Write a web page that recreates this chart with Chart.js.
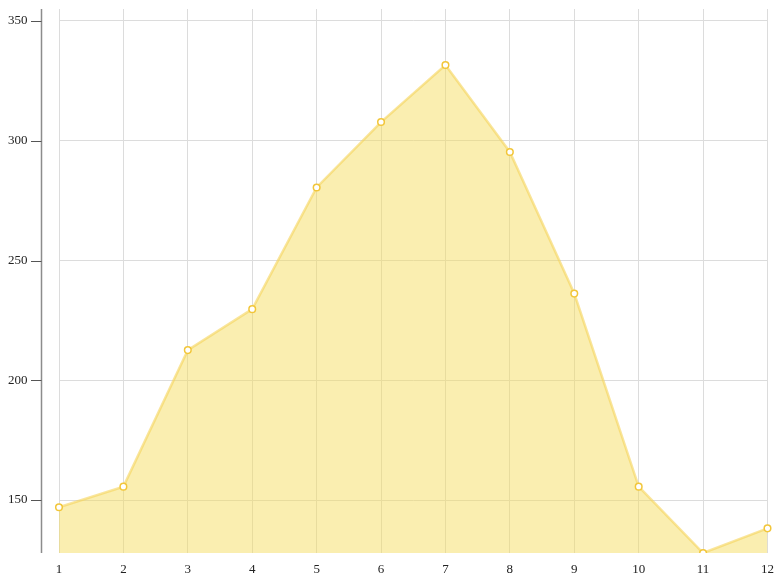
<!DOCTYPE html>
<html>
<head>
<meta charset="utf-8">
<script src="https://cdn.jsdelivr.net/npm/chart.js@4/dist/chart.umd.min.js"></script>
<style>
html,body{margin:0;padding:0;background:#fff;}
#wrap{width:782px;height:578px;}
</style>
</head>
<body>
<div id="wrap"><canvas id="c" width="782" height="578"></canvas></div>
<script>
const categories = ["1","2","3","4","5","6","7","8","9","10","11","12"];
const values = [147.0, 155.6, 212.6, 229.7, 280.5, 307.8, 331.6, 295.3, 236.2, 155.6, 127.9, 138.2];
const yTicks = [150, 200, 250, 300, 350];
const yMin = 127.9;
const yMax = 355;

const offsetAxis = {
  id: 'offsetAxis',
  afterDraw(chart) {
    const ctx = chart.ctx;
    const y = chart.scales.y;
    const area = chart.chartArea;
    const ax = area.left - 17.5;
    ctx.save();
    ctx.strokeStyle = '#8c8c8c';
    ctx.lineWidth = 1.5;
    ctx.beginPath();
    ctx.moveTo(ax, area.top);
    ctx.lineTo(ax, area.bottom);
    ctx.stroke();
    ctx.strokeStyle = '#555';
    ctx.lineWidth = 1;
    yTicks.forEach(v => {
      const py = Math.round(y.getPixelForValue(v)) + 0.5;
      ctx.beginPath();
      ctx.moveTo(ax - 10.5, py);
      ctx.lineTo(ax, py);
      ctx.stroke();
    });
    ctx.restore();
  }
};

new Chart(document.getElementById('c'), {
  type: 'line',
  data: {
    labels: categories,
    datasets: [{
      data: values,
      fill: 'start',
      backgroundColor: 'rgba(245,220,90,0.48)',
      borderColor: 'rgba(245,212,90,0.6)',
      borderWidth: 2.5,
      tension: 0,
      pointRadius: 3.3,
      pointBorderWidth: 1.5,
      pointBackgroundColor: '#ffffff',
      pointBorderColor: '#f2c63a',
      pointHoverRadius: 3.3
    }]
  },
  options: {
    responsive: false,
    animation: false,
    layout: { padding: { top: 9, right: 14, bottom: 1, left: 8 } },
    plugins: { legend: { display: false }, tooltip: { enabled: false } },
    scales: {
      x: {
        type: 'category',
        offset: false,
        afterFit(scale) { scale.height = 24; },
        grid: { color: '#dcdcdc', lineWidth: 1, drawTicks: false },
        border: { display: false },
        ticks: {
          padding: 8,
          color: '#222',
          font: { family: '"Liberation Serif", "DejaVu Serif", serif', size: 13, lineHeight: 1.3 },
          maxRotation: 0,
          autoSkip: false
        }
      },
      y: {
        min: yMin,
        max: yMax,
        afterFit(scale) { scale.width = 51; },
        afterBuildTicks(scale) { scale.ticks = yTicks.map(v => ({ value: v })); },
        grid: { color: '#dcdcdc', lineWidth: 1, drawTicks: false },
        border: { display: false },
        ticks: {
          padding: 0,
          crossAlign: 'far',
          color: '#222',
          includeBounds: false,
          font: { family: '"Liberation Serif", "DejaVu Serif", serif', size: 13 }
        }
      }
    }
  },
  plugins: [offsetAxis]
});
</script>
</body>
</html>
